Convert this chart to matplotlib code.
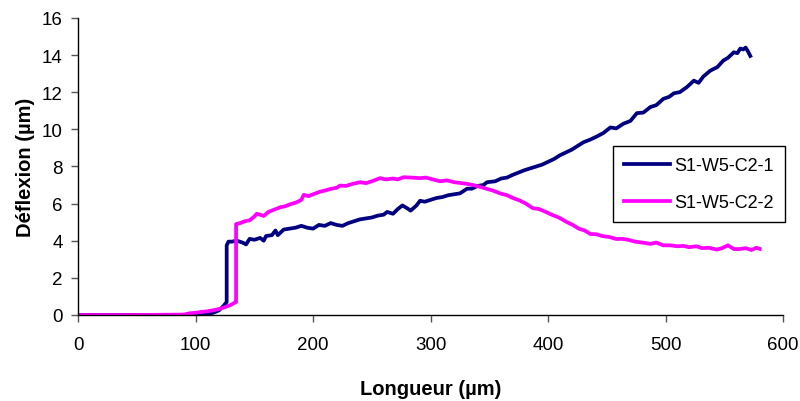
import matplotlib
matplotlib.use("Agg")
import matplotlib.pyplot as plt

plt.rcParams['font.family'] = ['Liberation Sans', 'DejaVu Sans']

# Series 1: S1-W5-C2-1 (navy)
x1 = [0, 50, 100, 105, 110, 115, 120, 124, 126.5, 126.5, 128, 131, 135, 140, 143, 146, 150,
      155, 158, 160, 165, 168, 170, 175, 180, 185, 190, 195, 200, 205, 210, 215, 220, 225,
      230, 235, 240, 245, 250, 255, 260, 263, 268, 272, 276, 280, 283, 288, 291, 295, 300,
      305, 310, 315, 320, 325, 331, 335, 340, 345, 348, 355, 360, 365, 370, 376, 380, 385,
      390, 395, 400, 405, 410, 415, 420, 425, 430, 436, 441, 447, 453, 458, 464, 470, 475.5,
      481, 487, 492, 498, 503, 507, 512, 518, 524, 528, 532, 538, 544, 549, 553, 558, 561,
      563.5, 566, 568, 570, 572]
y1 = [0, 0, 0, 0.02, 0.05, 0.12, 0.25, 0.5, 0.7, 3.75, 3.95, 3.95, 4.0, 3.9, 3.8, 4.1, 4.05,
      4.15, 4.0, 4.25, 4.3, 4.55, 4.3, 4.6, 4.65, 4.7, 4.8, 4.7, 4.65, 4.85, 4.8, 4.95, 4.85,
      4.8, 4.95, 5.05, 5.15, 5.2, 5.25, 5.35, 5.4, 5.55, 5.45, 5.7, 5.9, 5.75, 5.62, 5.9,
      6.15, 6.1, 6.2, 6.3, 6.35, 6.45, 6.5, 6.55, 6.8, 6.8, 6.95, 7.0, 7.15, 7.2, 7.35, 7.4,
      7.55, 7.7, 7.8, 7.9, 8.0, 8.1, 8.25, 8.4, 8.6, 8.75, 8.9, 9.1, 9.3, 9.45, 9.6, 9.8,
      10.1, 10.05, 10.3, 10.45, 10.87, 10.9, 11.2, 11.3, 11.64, 11.75, 11.94, 12.0, 12.27,
      12.62, 12.5, 12.84, 13.16, 13.35, 13.7, 13.85, 14.15, 14.1, 14.35, 14.3, 14.4, 14.2,
      13.95]

# Series 2: S1-W5-C2-2 (magenta)
x2 = [0, 50, 90, 95, 100, 105, 110, 115, 120, 125, 130, 133, 134.5, 134.5, 138, 142, 146,
      150, 152, 155, 158, 162, 166, 172, 176, 180, 186, 190, 192, 196, 200, 206, 210, 215,
      220, 223, 228, 233, 240, 245, 250, 257, 262, 268, 272, 277, 283, 291, 296, 302, 308,
      314, 320, 325, 331, 336, 342, 348, 353, 359, 365, 370, 376, 381, 387, 392, 398, 403,
      409, 416, 421, 426, 431, 436, 441, 446, 452, 458, 463, 468, 474, 480, 487, 492, 498,
      504, 510, 515, 520, 526, 531, 537, 543.5, 548, 553, 558, 563, 568, 573, 577, 580]
y2 = [0, 0, 0.02, 0.09, 0.12, 0.16, 0.2, 0.25, 0.32, 0.42, 0.54, 0.65, 0.7, 4.9, 4.95, 5.05,
      5.1, 5.3, 5.45, 5.4, 5.33, 5.55, 5.65, 5.8, 5.85, 5.95, 6.07, 6.2, 6.47, 6.4, 6.5, 6.64,
      6.7, 6.79, 6.85, 6.97, 6.95, 7.05, 7.15, 7.1, 7.2, 7.37, 7.3, 7.35, 7.3, 7.42, 7.4,
      7.37, 7.4, 7.3, 7.2, 7.25, 7.15, 7.11, 7.06, 7.0, 6.9, 6.79, 6.7, 6.55, 6.45, 6.3,
      6.16, 6.0, 5.75, 5.71, 5.55, 5.4, 5.25, 5.0, 4.85, 4.65, 4.55, 4.36, 4.35, 4.25, 4.2,
      4.09, 4.1, 4.05, 3.95, 3.9, 3.83, 3.9, 3.75, 3.75, 3.7, 3.72, 3.65, 3.7, 3.6, 3.62,
      3.52, 3.6, 3.75, 3.55, 3.55, 3.6, 3.5, 3.62, 3.56]

labels = ["S1-W5-C2-1", "S1-W5-C2-2"]
x_ticks = [0, 100, 200, 300, 400, 500, 600]
y_ticks = [0, 2, 4, 6, 8, 10, 12, 14, 16]

fig = plt.figure(figsize=(8.0, 4.02), dpi=100)
ax = fig.add_axes([0.0975, 0.214, 0.8815, 0.739])

ax.plot(x1, y1, color="#000080", lw=2.7, label=labels[0], solid_joinstyle="round")
ax.plot(x2, y2, color="#FF00FF", lw=2.7, label=labels[1], solid_joinstyle="round")

ax.set_xlim(0, 600)
ax.set_ylim(0, 16)
ax.set_xticks(x_ticks)
ax.set_yticks(y_ticks)
ax.spines['top'].set_visible(False)
ax.spines['right'].set_visible(False)
for s in ['left', 'bottom']:
    ax.spines[s].set_color('black')
    ax.spines[s].set_linewidth(1.0)
ax.tick_params(direction='out', length=5, width=1, color='#555555', labelsize=13.5,
               labelcolor='black', pad=6)
ax.tick_params(axis='x', pad=10)

ax.set_xlabel("Longueur (µm)", fontsize=14.5, fontweight='bold', labelpad=19)
ax.set_ylabel("Déflexion (µm)", fontsize=14.5, fontweight='bold', labelpad=5)

leg = ax.legend(loc='upper left', bbox_to_anchor=(0.759, 0.569), fontsize=13.0,
                frameon=True, fancybox=False, edgecolor='black', framealpha=1,
                handlelength=2.5, borderpad=0.62, labelspacing=1.1, handletextpad=0.25,
                borderaxespad=0, handleheight=0.7)
leg.get_frame().set_linewidth(1.0)

fig.savefig("out.png", dpi=100)
